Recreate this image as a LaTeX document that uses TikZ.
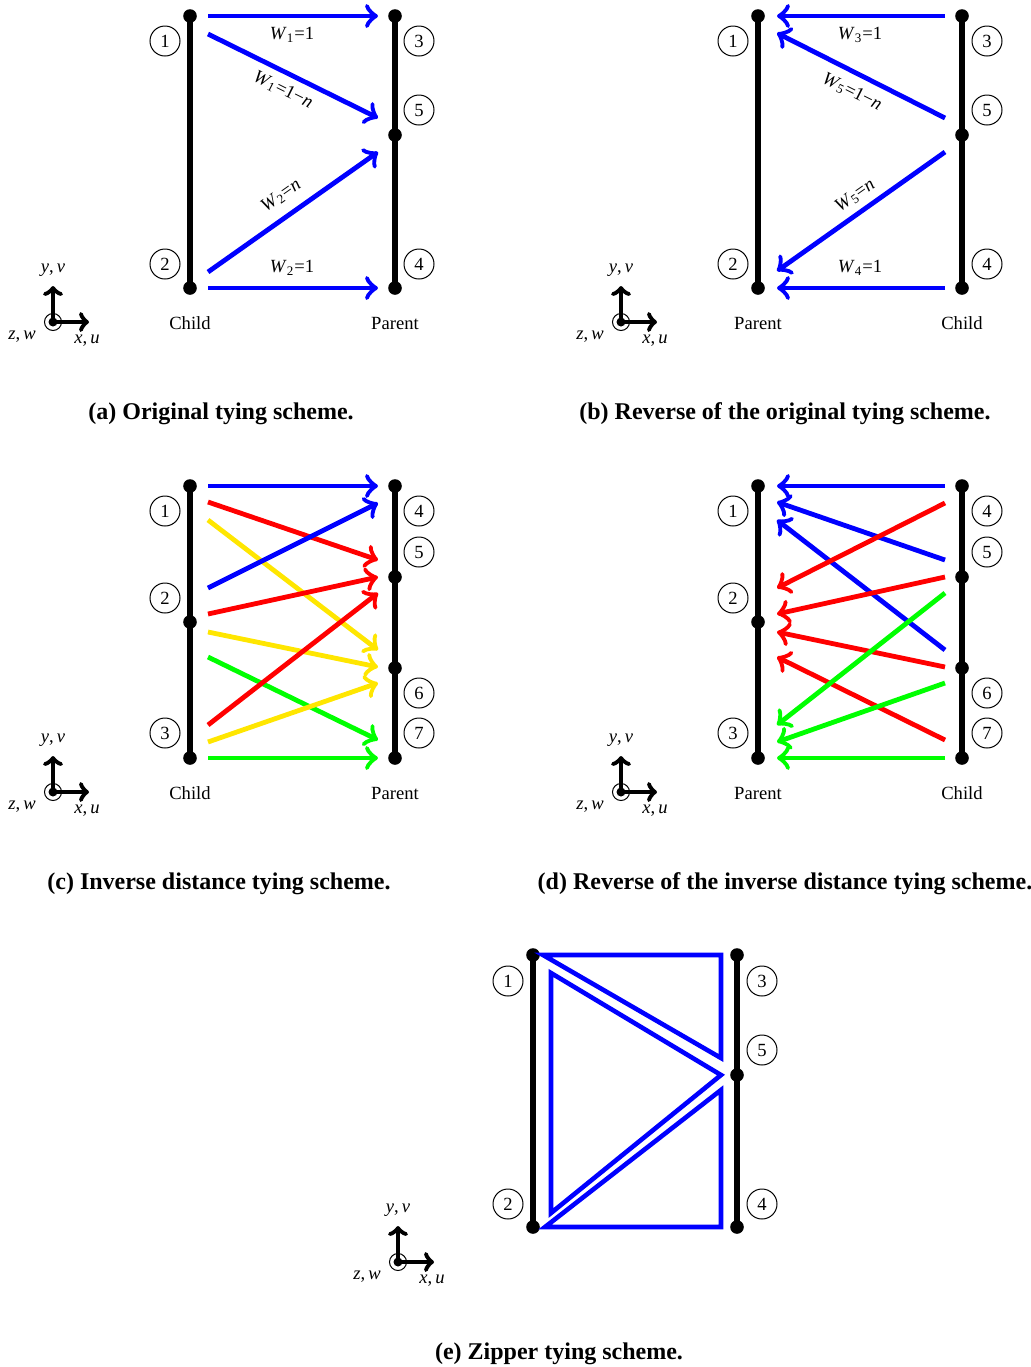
\documentclass[tikz,border=0pt]{standalone}
\usepackage{fontspec}
\setmainfont{Liberation Serif}
\usetikzlibrary{arrows.meta}
\definecolor{tyellow}{RGB}{255,230,0}
\definecolor{tgreen}{RGB}{0,255,0}
\definecolor{tred}{RGB}{255,0,0}
\definecolor{tblue}{RGB}{0,0,255}
\tikzset{
  bar/.style={line width=2.6pt, black},
  dotn/.style={circle, fill=black, inner sep=0pt, minimum size=6.8pt},
  num/.style={circle, draw, line width=0.5pt, inner sep=0pt, minimum size=15pt, font=\fontsize{9.3}{10}\selectfont},
  arr/.style={line width=2.4pt, -{Classical TikZ Rightarrow[length=6.5pt,width=12pt]}},
  axarr/.style={line width=2.4pt, -{Classical TikZ Rightarrow[length=5pt,width=10pt]}},
  lbl/.style={font=\fontsize{9.3}{10}\selectfont, inner sep=0pt},
  captxt/.style={font=\fontsize{12}{14}\selectfont\bfseries, inner sep=0pt},
  tri/.style={line width=2.3pt, tblue, line join=miter},
  axes/.pic={
    \node[circle, draw, line width=0.5pt, minimum size=8.5pt, inner sep=0pt] (-o) at (0,0) {};
    \node[circle, fill=black, minimum size=4.5pt, inner sep=0pt] (-d) at (0,0) {};
    \coordinate (-y) at (0,-36);
    \coordinate (-x) at (36,0);
    \draw[axarr] (-d.center) -- (-y);
    \draw[axarr] (-d.center) -- (-x);
    \node[lbl] (-yl) at (0,-52) {\textit{y},\,\textit{v}};
    \node[lbl] (-zl) at (-31,15) {\textit{z},\,\textit{w}};
    \node[lbl] (-xl) at (34,19) {\textit{x},\,\textit{u}};
  }
}
\begin{document}
\begin{tikzpicture}[x=0.5pt,y=-0.5pt]
\useasboundingbox (0,0) rectangle (1030,1367);

% ================= (a) =================
\node[dotn] (a1) at (190,16) {};
\node[dotn] (a2) at (190,288) {};
\node[dotn] (a3) at (395,16) {};
\node[dotn] (a5) at (395,135) {};
\node[dotn] (a4) at (395,288) {};
\draw[bar] (a1.center) -- (a2.center);
\draw[bar] (a3.center) -- (a4.center);
\node[num] (an1) at (165,41) {1};
\node[num] (an2) at (165,264) {2};
\node[num] (an3) at (419,41) {3};
\node[num] (an5) at (419,110) {5};
\node[num] (an4) at (419,264) {4};
\draw[arr,tblue] ([shift={(18,0)}]a1.center) -- ([shift={(-17,0)}]a3.center);
\draw[arr,tblue] ([shift={(18,18)}]a1.center) -- ([shift={(-17,-17)}]a5.center);
\draw[arr,tblue] ([shift={(18,-16)}]a2.center) -- ([shift={(-17,17)}]a5.center);
\draw[arr,tblue] ([shift={(18,0)}]a2.center) -- ([shift={(-17,0)}]a4.center);
\node[lbl] (aw1) at (292,35) {\textit{W}\textsubscript{1}=1};
\node[lbl,rotate=-26.6] (aw2) at (283,90) {\textit{W}\textsubscript{1}=1−\textit{n}};
\node[lbl,rotate=35.2] (aw3) at (281,196) {\textit{W}\textsubscript{2}=\textit{n}};
\node[lbl] (aw4) at (292,268) {\textit{W}\textsubscript{2}=1};
\node[lbl] (achild) at (190,323) {Child};
\node[lbl] (aparent) at (395,323) {Parent};
\pic (axa) at (53,322) {axes};
\node[captxt] (capa) at (221,414) {(a) Original tying scheme.};

% ================= (b) =================
\node[dotn] (b1) at (758,16) {};
\node[dotn] (b2) at (758,288) {};
\node[dotn] (b3) at (962,16) {};
\node[dotn] (b5) at (962,135) {};
\node[dotn] (b4) at (962,288) {};
\draw[bar] (b1.center) -- (b2.center);
\draw[bar] (b3.center) -- (b4.center);
\node[num] (bn1) at (733,41) {1};
\node[num] (bn2) at (733,264) {2};
\node[num] (bn3) at (987,41) {3};
\node[num] (bn5) at (987,110) {5};
\node[num] (bn4) at (987,264) {4};
\draw[arr,tblue] ([shift={(-17,0)}]b3.center) -- ([shift={(19,0)}]b1.center);
\draw[arr,tblue] ([shift={(-17,-17)}]b5.center) -- ([shift={(19,17)}]b1.center);
\draw[arr,tblue] ([shift={(-17,17)}]b5.center) -- ([shift={(19,-17)}]b2.center);
\draw[arr,tblue] ([shift={(-17,0)}]b4.center) -- ([shift={(19,0)}]b2.center);
\node[lbl] (bw1) at (860,35) {\textit{W}\textsubscript{3}=1};
\node[lbl,rotate=-26.6] (bw2) at (852,92) {\textit{W}\textsubscript{5}=1−\textit{n}};
\node[lbl,rotate=35.2] (bw3) at (855,196) {\textit{W}\textsubscript{5}=\textit{n}};
\node[lbl] (bw4) at (860,268) {\textit{W}\textsubscript{4}=1};
\node[lbl] (bparent) at (758,323) {Parent};
\node[lbl] (bchild) at (962,323) {Child};
\pic (axb) at (621,322) {axes};
\node[captxt] (capb) at (785,414) {(b) Reverse of the original tying scheme.};

% ================= (c) =================
\node[dotn] (c1) at (190,486) {};
\node[dotn] (c2) at (190,622) {};
\node[dotn] (c3) at (190,758) {};
\node[dotn] (c4) at (395,486) {};
\node[dotn] (c5) at (395,577) {};
\node[dotn] (c6) at (395,668) {};
\node[dotn] (c7) at (395,758) {};
\draw[bar] (c1.center) -- (c3.center);
\draw[bar] (c4.center) -- (c7.center);
\node[num] (cn1) at (165,511) {1};
\node[num] (cn2) at (165,598) {2};
\node[num] (cn3) at (165,733) {3};
\node[num] (cn4) at (419,511) {4};
\node[num] (cn5) at (419,552) {5};
\node[num] (cn6) at (419,693) {6};
\node[num] (cn7) at (419,733) {7};
\draw[arr,tblue]   ([shift={(18,0)}]c1.center)   -- ([shift={(-17,0)}]c4.center);
\draw[arr,tred]    ([shift={(18,16)}]c1.center)  -- ([shift={(-17,-17)}]c5.center);
\draw[arr,tyellow] ([shift={(18,34)}]c1.center)  -- ([shift={(-17,-18)}]c6.center);
\draw[arr,tblue]   ([shift={(18,-34)}]c2.center) -- ([shift={(-17,17)}]c4.center);
\draw[arr,tred]    ([shift={(18,-8)}]c2.center)  -- ([shift={(-17,0)}]c5.center);
\draw[arr,tyellow] ([shift={(18,10)}]c2.center)  -- ([shift={(-17,-1)}]c6.center);
\draw[arr,tgreen]  ([shift={(18,35)}]c2.center)  -- ([shift={(-17,-18)}]c7.center);
\draw[arr,tred]    ([shift={(18,-33)}]c3.center) -- ([shift={(-17,16)}]c5.center);
\draw[arr,tyellow] ([shift={(18,-16)}]c3.center) -- ([shift={(-17,15)}]c6.center);
\draw[arr,tgreen]  ([shift={(18,0)}]c3.center)   -- ([shift={(-17,0)}]c7.center);
\node[lbl] (cchild) at (190,793) {Child};
\node[lbl] (cparent) at (395,793) {Parent};
\pic (axc) at (53,792) {axes};
\node[captxt] (capc) at (219,884) {(c) Inverse distance tying scheme.};

% ================= (d) =================
\node[dotn] (d1) at (758,486) {};
\node[dotn] (d2) at (758,622) {};
\node[dotn] (d3) at (758,758) {};
\node[dotn] (d4) at (962,486) {};
\node[dotn] (d5) at (962,577) {};
\node[dotn] (d6) at (962,668) {};
\node[dotn] (d7) at (962,758) {};
\draw[bar] (d1.center) -- (d3.center);
\draw[bar] (d4.center) -- (d7.center);
\node[num] (dn1) at (733,511) {1};
\node[num] (dn2) at (733,598) {2};
\node[num] (dn3) at (733,733) {3};
\node[num] (dn4) at (987,511) {4};
\node[num] (dn5) at (987,552) {5};
\node[num] (dn6) at (987,693) {6};
\node[num] (dn7) at (987,733) {7};
\draw[arr,tblue]  ([shift={(-17,0)}]d4.center)   -- ([shift={(19,0)}]d1.center);
\draw[arr,tblue]  ([shift={(-17,-17)}]d5.center) -- ([shift={(19,16)}]d1.center);
\draw[arr,tblue]  ([shift={(-17,-18)}]d6.center) -- ([shift={(19,34)}]d1.center);
\draw[arr,tred]   ([shift={(-17,17)}]d4.center)  -- ([shift={(19,-34)}]d2.center);
\draw[arr,tred]   ([shift={(-17,0)}]d5.center)   -- ([shift={(19,-8)}]d2.center);
\draw[arr,tred]   ([shift={(-17,-1)}]d6.center)  -- ([shift={(19,10)}]d2.center);
\draw[arr,tred]   ([shift={(-17,-18)}]d7.center) -- ([shift={(19,35)}]d2.center);
\draw[arr,tgreen] ([shift={(-17,16)}]d5.center)  -- ([shift={(19,-33)}]d3.center);
\draw[arr,tgreen] ([shift={(-17,15)}]d6.center)  -- ([shift={(19,-16)}]d3.center);
\draw[arr,tgreen] ([shift={(-17,0)}]d7.center)   -- ([shift={(19,0)}]d3.center);
\node[lbl] (dparent) at (758,793) {Parent};
\node[lbl] (dchild) at (962,793) {Child};
\pic (axd) at (621,792) {axes};
\node[captxt] (capd) at (785,884) {(d) Reverse of the inverse distance tying scheme.};

% ================= (e) =================
\node[dotn] (e1) at (533,955) {};
\node[dotn] (e2) at (533,1227) {};
\node[dotn] (e3) at (737,955) {};
\node[dotn] (e5) at (737,1075) {};
\node[dotn] (e4) at (737,1227) {};
\draw[bar] (e1.center) -- (e2.center);
\draw[bar] (e3.center) -- (e4.center);
\node[num] (en1) at (508,981) {1};
\node[num] (en2) at (508,1204) {2};
\node[num] (en3) at (762,981) {3};
\node[num] (en5) at (762,1050) {5};
\node[num] (en4) at (762,1204) {4};
\draw[tri] ([shift={(10,0)}]e1.center) -- ([shift={(-16,0)}]e3.center) -- ([shift={(-16,-17)}]e5.center) -- cycle;
\draw[tri] ([shift={(18,18)}]e1.center) -- ([shift={(-16,0)}]e5.center) -- ([shift={(18,-14)}]e2.center) -- cycle;
\draw[tri] ([shift={(-16,15)}]e5.center) -- ([shift={(-16,0)}]e4.center) -- ([shift={(12,0)}]e2.center) -- cycle;
\pic (axe) at (398,1262) {axes};
\node[captxt] (cape) at (559,1354) {(e) Zipper tying scheme.};
\end{tikzpicture}
\end{document}
